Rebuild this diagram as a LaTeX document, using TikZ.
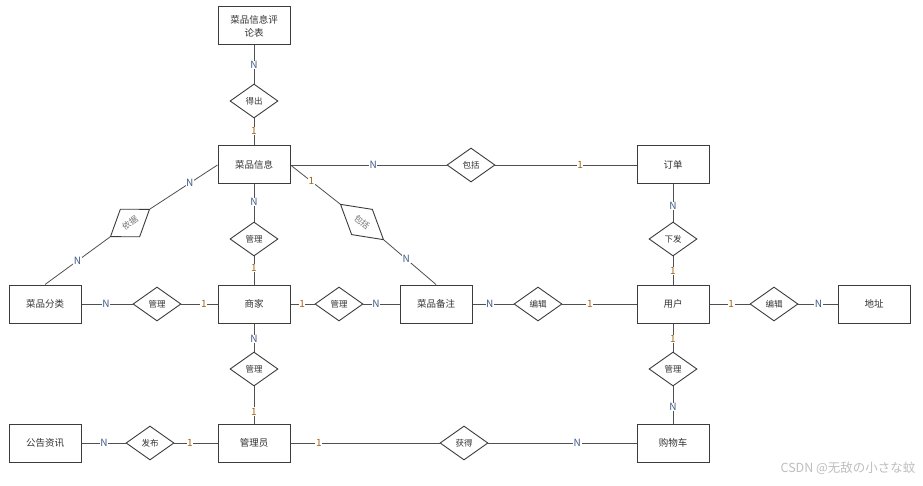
\documentclass[tikz,border=0pt]{standalone}
\usepackage{fontspec}
\newfontfamily\cjk{Noto Sans CJK SC}
\usetikzlibrary{shapes.geometric}
\definecolor{boxline}{RGB}{60,60,60}
\definecolor{conn}{RGB}{80,80,80}
\definecolor{ncol}{RGB}{65,90,135}
\definecolor{onecol}{RGB}{165,100,25}
\definecolor{wm}{RGB}{190,190,190}
\tikzset{
  ent/.style={draw=boxline, line width=1pt, minimum width=72pt, minimum height=38pt, inner sep=1pt, align=center, font=\cjk\fontsize{9.5}{13}\selectfont, text=black!80},
  rel/.style={diamond, draw=boxline, line width=0.9pt, minimum width=48pt, minimum height=34pt, inner sep=0pt, aspect=1.4, font=\cjk\fontsize{8.5}{10}\selectfont, text=black!80},
  conline/.style={draw=conn, line width=0.8pt},
  nl/.style={fill=white, inner sep=0.6pt, font=\cjk\fontsize{10}{10}\selectfont, text=ncol},
  ol/.style={fill=white, inner sep=0.6pt, font=\cjk\fontsize{10}{10}\selectfont, text=onecol}
}
\begin{document}
\begin{tikzpicture}[x=1pt,y=-1pt]
\useasboundingbox[fill=white] (0,0) rectangle (923,486);
% entities
\node[ent] (cpt) at (254,26) {菜品信息评\\论表};
\node[ent] (cp) at (254,165) {菜品信息};
\node[ent] (dd) at (673,165) {订单};
\node[ent] (fl) at (45,304) {菜品分类};
\node[ent] (sj) at (254,304) {商家};
\node[ent] (bz) at (436,304) {菜品备注};
\node[ent] (yh) at (673,304) {用户};
\node[ent] (dz) at (874,304) {地址};
\node[ent] (gg) at (45,443) {公告资讯};
\node[ent] (gly) at (254,443) {管理员};
\node[ent] (gwc) at (673,443) {购物车};
% relations
\node[rel] (dc) at (254,101) {得出};
\node[rel] (bk) at (471,165) {包括};
\node[rel] (xf) at (673,239) {下发};
\node[rel] (gl1) at (254,239) {管理};
\node[rel] (gl0) at (157,304) {管理};
\node[rel] (gl2) at (339,304) {管理};
\node[rel] (bj1) at (538,304) {编辑};
\node[rel] (bj2) at (774,304) {编辑};
\node[rel] (gl3) at (254,369) {管理};
\node[rel] (gl4) at (673,369) {管理};
\node[rel] (fb) at (150,443) {发布};
\node[rel] (hd) at (464,443) {获得};
\node[rel, rotate=35, text=black!55] (yj) at (130,223) {依据};
\node[rel, rotate=-39.4, minimum width=56pt, minimum height=33pt, text=black!55] (bk2) at (362,222) {包括};
% connectors
\draw[conline] (cpt.south) -- node[nl,pos=0.51] (l1) {N} (dc.north);
\draw[conline] (dc.south) -- node[ol,pos=0.46] (l2) {1} (cp.north);
\draw[conline] (cp.east) -- node[nl,pos=0.53] (l3) {N} (bk.west);
\draw[conline] (bk.east) -- node[ol,pos=0.6] (l4) {1} (dd.west);
\draw[conline] (dd.south) -- node[nl,pos=0.58] (l5) {N} (xf.north);
\draw[conline] (xf.south) -- node[ol,pos=0.52] (l6) {1} (yh.north);
\draw[conline] (yh.east) -- node[ol,pos=0.54] (l7) {1} (bj2.west);
\draw[conline] (bj2.east) -- node[nl,pos=0.51] (l8) {N} (dz.west);
\draw[conline] (yh.south) -- node[ol,pos=0.55] (l9) {1} (gl4.north);
\draw[conline] (gl4.south) -- node[nl,pos=0.55] (l10) {N} (gwc.north);
\draw[conline] (gwc.west) -- node[nl,pos=0.4] (l11) {N} (hd.east);
\draw[conline] (hd.west) -- node[ol,pos=0.81] (l12) {1} (gly.east);
\draw[conline] (gly.west) -- node[ol,pos=0.64] (l13) {1} (fb.east);
\draw[conline] (fb.west) -- node[nl,pos=0.49] (l14) {N} (gg.east);
\draw[conline] (sj.south) -- node[nl,pos=0.55] (l15) {N} (gl3.north);
\draw[conline] (gl3.south) -- node[ol,pos=0.68] (l16) {1} (gly.north);
\draw[conline] (cp.south) -- node[nl,pos=0.47] (l17) {N} (gl1.north);
\draw[conline] (gl1.south) -- node[ol,pos=0.41] (l18) {1} (sj.north);
\draw[conline] (fl.east) -- node[nl,pos=0.48] (l19) {N} (gl0.west);
\draw[conline] (gl0.east) -- node[ol,pos=0.62] (l20) {1} (sj.west);
\draw[conline] (sj.east) -- node[ol,pos=0.48] (l21) {1} (gl2.west);
\draw[conline] (gl2.east) -- node[nl,pos=0.35] (l22) {N} (bz.west);
\draw[conline] (bz.east) -- node[nl,pos=0.42] (l23) {N} (bj1.west);
\draw[conline] (bj1.east) -- node[ol,pos=0.37] (l24) {1} (yh.west);
\draw[conline] (fl.north) -- node[nl,pos=0.5] (l25) {N} (yj.west);
\draw[conline] (yj.east) -- node[nl,pos=0.59] (l26) {N} (cp.west);
\draw[conline] (cp.east) -- node[ol,pos=0.42] (l27) {1} (bk2.west);
\draw[conline] (bk2.east) -- node[nl,pos=0.43] (l28) {N} (bz.north);
% watermark
\node[font=\cjk\fontsize{12.5}{14}\selectfont, text=wm, anchor=east] (wmk) at (919,468) {CSDN @无敌の小さな蚊};
\end{tikzpicture}
\end{document}
